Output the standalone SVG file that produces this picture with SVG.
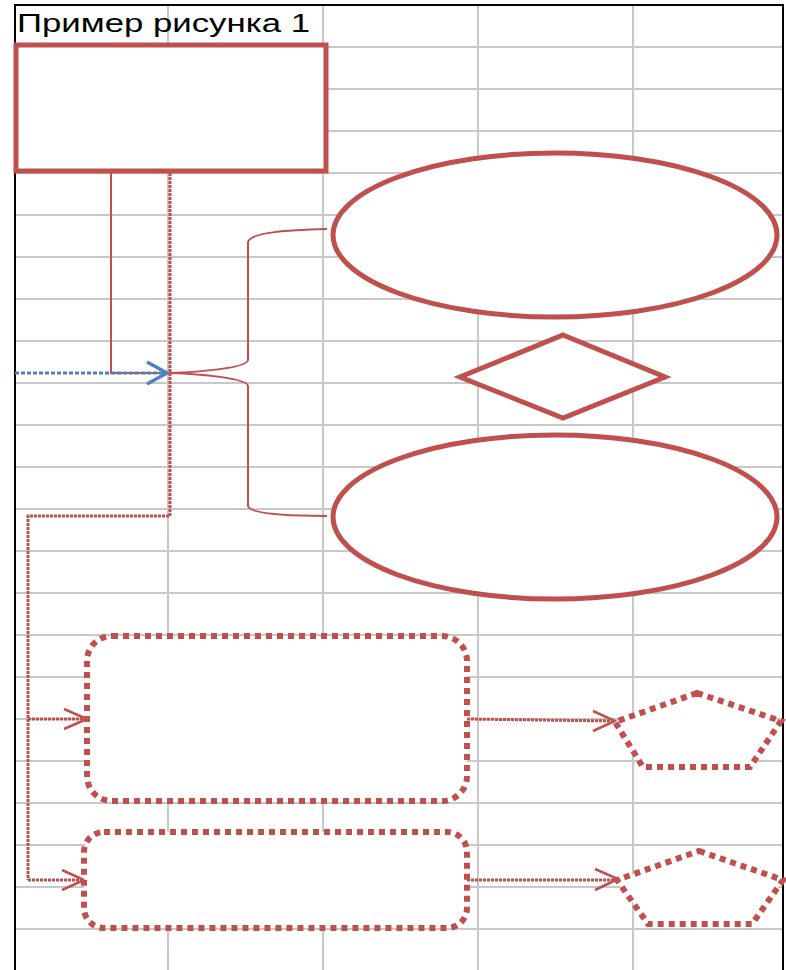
<svg xmlns="http://www.w3.org/2000/svg" width="786" height="970" viewBox="0 0 786 970">
<style>
.grid{stroke:#c8c8c8;stroke-width:2;fill:none}
.frame{stroke:#000;stroke-width:2;fill:none}
.solid{fill:#fff;stroke:#c0504d;stroke-width:5}
.thin{fill:none;stroke:#c0504d;stroke-width:2}
.dotshape{fill:#fff;stroke:#c0504d;stroke-width:6;stroke-dasharray:6 5}
.dotline{fill:none;stroke:#c0504d;stroke-width:3;stroke-dasharray:3 1}
.blue{fill:none;stroke:#4f81bd;stroke-width:3;stroke-dasharray:4 2}
.chev{fill:none;stroke:#c0504d;stroke-width:2.5}
.chevb{fill:none;stroke:#4f81bd;stroke-width:3.5}
.t{font-family:"Liberation Sans",Arial,sans-serif;fill:#000}
</style>
<rect width="786" height="970" fill="#fff"/>
<g id="grid">
<path class="grid" d="M168,5V970M323,5V970M478,5V970M633,5V970"/>
<path class="grid" d="M15,47H783M15,89H783M15,131H783M15,173H783M15,215H783M15,257H783M15,299H783M15,341H783M15,383H783M15,425H783M15,467H783M15,509H783M15,551H783M15,593H783M15,635H783M15,677H783M15,719H783M15,761H783M15,803H783M15,845H783M15,887H783M15,929H783"/>
<path class="frame" d="M15,970V5H783V970"/>
</g>
<g id="title">
<text class="t" x="17" y="32" font-size="25" textLength="293" lengthAdjust="spacingAndGlyphs">Пример рисунка 1</text>
</g>
<g id="connectors">
<path class="thin" stroke-width="3" d="M111,171V373H168"/>
<path class="blue" d="M15,373H165"/>
<polyline class="chevb" points="147,362 167,373 147,384"/>
<path class="dotline" d="M170,173V516H28V880"/>
<path class="dotline" d="M28,719H86"/>
<polyline class="chev" points="64,709 87,719 64,729"/>
<path class="dotline" d="M28,880H83"/>
<polyline class="chev" points="62,870 84,880 62,890"/>
<path class="thin" d="M327,229C290,230 250,232 248,242L248,360C247,368 200,372 170,373C200,374 247,378 248,386L248,506C250,514 290,516 327,516"/>
<path class="dotline" d="M467,719L614,721"/>
<polyline class="chev" points="593,711 615,721 593,731"/>
<path class="dotline" d="M467,880H616"/>
<polyline class="chev" points="595,869 618,879 595,890"/>
</g>
<g id="rect1"><rect class="solid" x="16" y="45" width="310" height="126"/></g>
<g id="ellipse1"><ellipse class="solid" cx="555" cy="235" rx="222" ry="82"/></g>
<g id="diamond"><polygon class="solid" stroke-width="4.5" points="563,335 665,377 563,418 460,377"/></g>
<g id="ellipse2"><ellipse class="solid" cx="555" cy="517" rx="222" ry="82"/></g>
<g id="rounded1">
<rect class="dotshape" x="87" y="636" width="380" height="165" rx="25"/>
</g>
<g id="rounded2">
<rect class="dotshape" x="84" y="832" width="383" height="96" rx="20"/>
</g>
<g id="pentagon1">
<polygon class="dotshape" points="697,693 781,721 750,767 643,767 615,722"/>
</g>
<g id="pentagon2">
<polygon class="dotshape" points="699,851 783,880 752,924 648,924 617,880"/>
</g>
</svg>
